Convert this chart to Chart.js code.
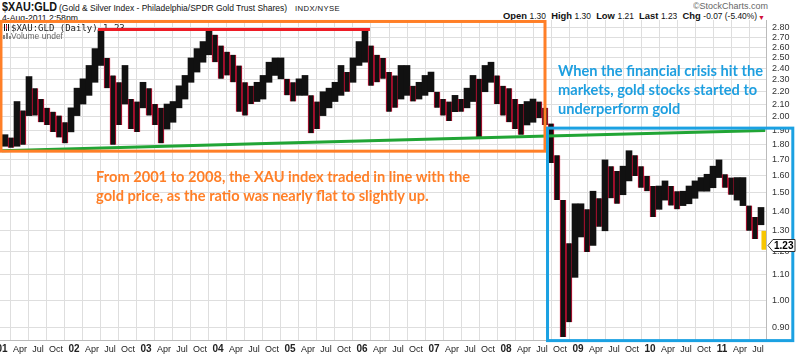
<!DOCTYPE html>
<html><head><meta charset="utf-8">
<script src="https://cdn.jsdelivr.net/npm/chart.js@4/dist/chart.umd.min.js"></script>
<style>
html,body{margin:0;padding:0;background:#fff;}
#wrap{position:relative;width:800px;height:357px;overflow:hidden;font-family:'Liberation Sans',Arial,sans-serif;}
#c{position:absolute;left:0;top:0;}
.t{position:absolute;white-space:nowrap;line-height:1;transform-origin:left top;}
</style></head><body>
<div id="wrap">
  <div class="t" data-w="55" style="left:2px;top:1px;font-size:12px;font-weight:bold;color:#111;">$XAU:GLD</div>
  <div class="t" data-w="228" style="left:59px;top:3px;font-size:9.5px;color:#111;">(Gold &amp; Silver Index - Philadelphia/SPDR Gold Trust Shares)</div>
  <div class="t" data-w="45" style="left:295px;top:4.5px;font-size:8px;color:#111;letter-spacing:0.4px;">INDX/NYSE</div>
  <div class="t" data-w="76" style="left:2px;top:14px;font-size:8.5px;color:#111;">4-Aug-2011 2:58pm</div>
  <div class="t" data-w="75" style="left:693px;top:1.7px;font-size:9px;color:#666;">©StockCharts.com</div>
  <div class="t" data-w="254" style="left:503px;top:11px;font-size:9.5px;color:#111;"><b>Open</b> <span style="font-size:8.5px">1.30</span>&nbsp; <b>High</b> <span style="font-size:8.5px">1.30</span>&nbsp; <b>Low</b> <span style="font-size:8.5px">1.21</span>&nbsp; <b>Last</b> <span style="font-size:8.5px">1.23</span>&nbsp; <b>Chg</b> <span style="font-size:8.5px">-0.07 (-5.40%)</span></div>
  <div class="t" style="left:758px;top:14px;font-size:7px;color:#d0103a;">▼</div>
  <canvas id="c" width="800" height="357"></canvas>
</div>
<script>
// ---- data (monthly ranges, Jan 2001 .. Aug 2011) ----
const startYear = 2001;
const monthLow = [
 1.79,1.78,1.79,1.80,2.01,2.01,1.96,1.94,1.89,1.85,1.81,1.89,
 2.01,2.10,2.17,2.28,2.43,2.23,1.80,1.94,2.10,1.91,1.89,2.07,
 2.01,1.94,1.81,1.91,1.96,2.07,2.14,2.28,2.37,2.46,2.53,2.46,
 2.31,2.34,2.28,2.04,2.01,2.10,2.12,2.14,2.28,2.34,2.31,2.17,
 2.12,2.17,2.17,1.88,1.91,2.01,2.07,2.12,2.17,2.20,2.28,2.43,
 2.46,2.25,2.28,2.31,2.04,2.07,2.14,2.17,2.12,2.14,2.17,2.20,
 2.07,2.01,1.97,2.04,2.04,2.07,2.12,1.85,2.20,2.28,2.10,2.01,
 1.96,1.91,1.87,1.94,1.96,1.99,1.94,1.68,1.46,0.87,0.92,1.09,
 1.27,1.20,1.23,1.32,1.30,1.47,1.44,1.49,1.57,1.60,1.53,1.51,
 1.37,1.41,1.46,1.43,1.41,1.43,1.44,1.47,1.51,1.51,1.53,1.59,
 1.53,1.49,1.46,1.43,1.30,1.26,1.33,1.21
];
const monthHigh = [
 1.87,1.85,2.12,2.05,2.33,2.23,2.14,2.07,2.04,2.01,1.96,2.07,
 2.23,2.31,2.43,2.59,2.78,2.50,2.34,2.28,2.43,2.14,2.12,2.28,
 2.23,2.10,2.07,2.10,2.12,2.25,2.34,2.50,2.59,2.66,2.78,2.73,
 2.62,2.56,2.53,2.43,2.28,2.25,2.28,2.34,2.46,2.50,2.50,2.31,
 2.28,2.31,2.34,2.17,2.12,2.20,2.23,2.28,2.43,2.37,2.50,2.66,
 2.78,2.62,2.53,2.50,2.37,2.34,2.43,2.43,2.25,2.28,2.34,2.37,
 2.20,2.14,2.12,2.17,2.14,2.23,2.34,2.31,2.43,2.46,2.34,2.25,
 2.23,2.14,2.10,2.12,2.14,2.12,2.07,1.95,1.73,1.46,1.24,1.44,
 1.44,1.41,1.51,1.47,1.70,1.66,1.63,1.66,1.76,1.73,1.66,1.60,
 1.54,1.54,1.57,1.54,1.51,1.51,1.54,1.57,1.59,1.61,1.66,1.70,
 1.61,1.59,1.59,1.59,1.43,1.37,1.42,1.30
];
const lastValue = 1.23;
// green long-term line (month index, value)
const trendMonths = [0, 45.5, 91, 127.2];
const trendValues = [1.76, 1.81, 1.86, 1.90];
// red resistance line
const resistMonths = [16, 61.3];
const resistValues = [2.785, 2.785];
// y tick labels
const yTicks = [0.9,1.0,1.1,1.2,1.3,1.4,1.5,1.6,1.7,1.8,1.9,2.0,2.1,2.2,2.3,2.4,2.5,2.6,2.7,2.8];
const quarterNames = ['', 'Apr', 'Jul', 'Oct'];
// annotation texts
const orangeLines = ['From 2001 to 2008, the XAU index traded in line with the', 'gold price, as the ratio was nearly flat to slightly up.'];
const blueLines = ['When the financial crisis hit the', 'markets, gold stocks started to', 'underperform gold'];

const nMonths = monthLow.length;
const barData = monthLow.map((lo, i) => ({ x: i + (i === nMonths - 1 ? 0.1 : 0.5), y: [lo, monthHigh[i]] }));
const qTicks = [];
for (let m = 0; m < nMonths; m += 3) qTicks.push(m);
const isDown = i => i > 0 && monthHigh[i] < monthHigh[i - 1];

// fit header texts
document.querySelectorAll('[data-w]').forEach(el => {
  const w = el.getBoundingClientRect().width;
  el.style.transform = 'scaleX(' + (+el.dataset.w / w) + ')';
});

const annot = {
  id: 'annot',
  afterDraw(chart) {
    const { ctx, scales: { x, y }, chartArea } = chart;
    const px = v => x.getPixelForValue(v), py = v => y.getPixelForValue(v);
    ctx.save();
    // x axis labels
    ctx.textAlign = 'center'; ctx.textBaseline = 'alphabetic'; ctx.fillStyle = '#222';
    qTicks.forEach(m => {
      const isYear = m % 12 === 0;
      ctx.font = isYear ? 'bold 10px "Liberation Sans", Arial' : '9px "Liberation Sans", Arial';
      const lab = isYear ? String((startYear + m / 12) % 100).padStart(2, '0') : quarterNames[(m % 12) / 3];
      ctx.fillText(lab, px(m), 352);
    });
    ctx.textAlign = 'left';
    // legend in plot
    ctx.strokeStyle = '#111'; ctx.lineWidth = 1;
    for (let k = 0; k < 3; k++) { ctx.beginPath(); ctx.moveTo(4.5 + k * 2, 24); ctx.lineTo(4.5 + k * 2, 31); ctx.stroke(); }
    ctx.fillStyle = '#d0103a'; ctx.fillRect(6, 25, 1, 4);
    ctx.font = '9px "DejaVu Sans Mono", monospace';
    ctx.fillStyle = '#222';
    ctx.fillText('$XAU:GLD (Daily) 1.23', 11, 31);
    ctx.fillStyle = '#888';
    ctx.fillRect(3, 35, 2, 4); ctx.fillRect(6, 33, 2, 6); ctx.fillRect(9, 36, 2, 3);
    ctx.font = '8.5px "Liberation Sans", Arial';
    ctx.fillStyle = '#666';
    ctx.fillText('Volume undef', 11, 39);
    // red line over legend
    ctx.strokeStyle = '#ee1c25'; ctx.lineWidth = 3;
    ctx.beginPath(); ctx.moveTo(px(resistMonths[0]), py(resistValues[0])); ctx.lineTo(px(resistMonths[1]), py(resistValues[1])); ctx.stroke();

    // orange box
    ctx.lineWidth = 3; ctx.strokeStyle = '#ff7f27';
    const ox0 = px(-0.17), ox1 = px(90.5), oy0 = py(2.87), oy1 = py(1.757);
    ctx.strokeRect(ox0, oy0, ox1 - ox0, oy1 - oy0);
    // blue box
    ctx.strokeStyle = '#1ba1e2';
    const bx0 = px(90.92), bx1 = px(131.8), by0 = py(1.917), by1 = py(0.858);
    ctx.strokeRect(bx0, by0, bx1 - bx0, by1 - by0);

    // annotation texts (fitted)
    ctx.font = 'bold 15px Lato, "Open Sans", sans-serif';
    const sx = 205 / ctx.measureText(blueLines[0]).width;
    const drawFit = (t, x0, yb, color) => {
      ctx.save(); ctx.translate(x0, yb); ctx.scale(sx, 1); ctx.fillStyle = color; ctx.fillText(t, 0, 0); ctx.restore();
    };
    blueLines.forEach((t, i) => drawFit(t, 558, 76 + i * 19, '#1e9fe0'));
    const oLeft = 470 - ctx.measureText(orangeLines[0]).width * sx;
    orangeLines.forEach((t, i) => drawFit(t, oLeft, 182 + i * 19, '#ff7f27'));

    // last value tag
    const ty = Math.round(py(lastValue)) + 0.5;
    const tx = chartArea.right + 2;
    ctx.fillStyle = '#fff'; ctx.strokeStyle = '#333'; ctx.lineWidth = 1;
    ctx.beginPath();
    ctx.moveTo(tx, ty); ctx.lineTo(tx + 5, ty - 6); ctx.lineTo(tx + 27, ty - 6); ctx.lineTo(tx + 27, ty + 6); ctx.lineTo(tx + 5, ty + 6); ctx.closePath();
    ctx.fill(); ctx.stroke();
    ctx.fillStyle = '#000'; ctx.font = 'bold 10px "Liberation Sans", Arial';
    ctx.textBaseline = 'middle';
    ctx.fillText(lastValue.toFixed(2), tx + 6, ty + 0.5);
    ctx.restore();
  }
};

new Chart(document.getElementById('c'), {
  type: 'bar',
  data: {
    datasets: [
      { type: 'line', label: 'trend', data: trendMonths.map((m, i) => ({ x: m, y: trendValues[i] })), borderColor: '#21a535', borderWidth: 3, pointRadius: 0, order: 0 },
      { type: 'line', label: 'resist', data: resistMonths.map((m, i) => ({ x: m, y: resistValues[i] })), borderColor: '#ee1c25', borderWidth: 3, pointRadius: 0, order: 0 },
      { type: 'bar', label: '$XAU:GLD', data: barData,
        backgroundColor: c => c.dataIndex === nMonths - 1 ? '#f7c600' : '#111',
        borderColor: c => c.dataIndex === nMonths - 1 ? '#f7c600' : (isDown(c.dataIndex) ? '#e0103a' : '#111'),
        borderWidth: c => isDown(c.dataIndex) ? { left: 1, right: 1, top: 0, bottom: 0 } : 0, borderSkipped: false,
        barThickness: 6, order: 1 }
    ]
  },
  options: {
    responsive: false, animation: false, devicePixelRatio: 1,
    layout: { padding: { top: 20, left: 0, right: 0, bottom: 0 } },
    plugins: { legend: { display: false }, tooltip: { enabled: false } },
    scales: {
      x: {
        type: 'linear', min: -0.333, max: 127.333, offset: false,
        grid: { color: '#dedede', drawTicks: false },
        border: { display: true, color: '#bbb' },
        afterBuildTicks: s => { s.ticks = qTicks.map(v => ({ value: v })); },
        afterFit: s => { s.height = 17; s.paddingLeft = 0; s.paddingRight = 0; },
        ticks: { display: false }
      },
      y: {
        type: 'logarithmic', position: 'right', min: 0.86, max: 2.886,
        grid: { color: '#dedede', drawTicks: false },
        border: { display: true, color: '#bbb' },
        afterBuildTicks: s => { s.ticks = yTicks.map(v => ({ value: v })); },
        afterFit: s => { s.width = 34; s.paddingTop = 0; s.paddingBottom = 0; },
        ticks: { padding: 6, color: '#333', font: { family: '"Liberation Sans", Arial', size: 9 }, callback: v => Number(v).toFixed(2) }
      }
    }
  },
  plugins: [annot]
});
</script>
</body></html>
